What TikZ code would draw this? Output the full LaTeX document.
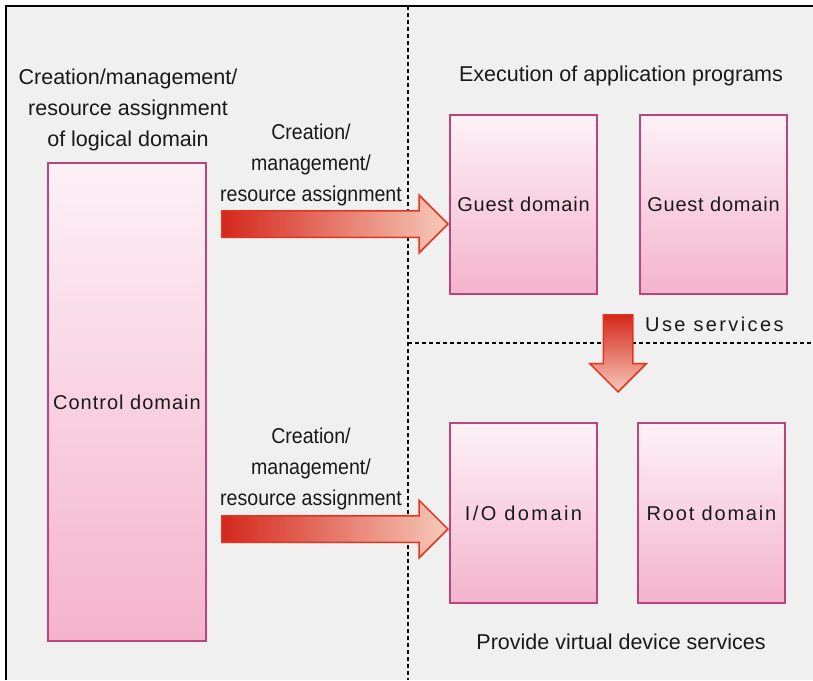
\documentclass[tikz,border=0pt]{standalone}
\usepackage{fontspec}
\setmainfont{Liberation Sans}
\newfontfamily\narrowsans[FakeStretch=0.91]{Liberation Sans}
\usetikzlibrary{shapes.arrows,calc}

\definecolor{panel}{HTML}{F0F0F0}
\definecolor{domtop}{HTML}{FDF1F6}
\definecolor{dombot}{HTML}{F4B3CD}
\definecolor{domline}{HTML}{B8467A}
\definecolor{arrdark}{HTML}{D4281C}
\definecolor{arrlight}{HTML}{F6CABA}
\definecolor{arrline}{HTML}{E8321E}

\begin{document}
\begin{tikzpicture}[x=1pt,y=-1pt,
        txt/.style={font=\fontsize{21.5}{31}\selectfont, text=black!90, align=center, inner sep=0pt},
        narrowtxt/.style={txt, font=\narrowsans\fontsize{21.5}{31}\selectfont},
        spaced/.style={font=\fontsize{20}{31}\selectfont\addfontfeature{LetterSpace=#1}},
        dombox/.style={draw=domline, line width=2pt, top color=domtop, bottom color=dombot, txt},
        divider/.style={line width=2pt, dash pattern=on 4pt off 3pt},
        fatarrow/.style={single arrow, draw=arrline, line width=1.5pt, single arrow tip angle=90, anchor=tip}]
        \useasboundingbox (0,0) rectangle (813,680);
        \fill[white] (0,0) rectangle (813,680);
        \fill[panel] (6,6) rectangle (813,680);
        \draw[line width=2pt] (6,680) -- (6,6) -- (813,6);

        % dividers
        \draw[divider] (408,6) -- (408,680);
        \draw[divider] (408,343) -- (813,343);

        % domains
        \node[dombox, spaced=5, minimum width=158pt, minimum height=478pt] (control) at (127,402) {Control domain};
        \node[dombox, spaced=4, minimum width=147pt, minimum height=179pt] (guestA) at (523.5,204.5) {Guest domain};
        \node[dombox, spaced=4, minimum width=147pt, minimum height=179pt] (guestB) at (713.5,204.5) {Guest domain};
        \node[dombox, spaced=12, minimum width=147pt, minimum height=180pt] (io) at (523.5,513) {I/O domain};
        \node[dombox, spaced=9, minimum width=147pt, minimum height=180pt] (root) at (711.5,513) {Root domain};

        % labels
        \node[txt] (ctrllabel) at (128,110) {Creation/management/\\resource assignment\\of logical domain};
        \node[txt] (execlabel) at (621,76) {Execution of application programs};
        \node[narrowtxt] (assignA) at (311,165) {Creation/\\management/\\resource assignment};
        \node[narrowtxt] (assignB) at (311,469) {Creation/\\management/\\resource assignment};
        \node[txt, spaced=12, anchor=west] (uselabel) at (645,324) {Use services};
        \node[txt] (providelabel) at (621,642) {Provide virtual device services};

        % block arrows
        \coordinate (tipA) at ($(guestA.west)+(0,19.5)$);
        \coordinate (tipB) at ($(io.west)+(0,16)$);
        \coordinate (tipC) at (618,393);
        \node[fatarrow, left color=arrdark, right color=arrlight, minimum height=226pt,
              inner sep=12.5pt, single arrow head extend=15.5pt] (arrowA) at (tipA) {};
        \node[fatarrow, left color=arrdark, right color=arrlight, minimum height=226pt,
              inner sep=12.5pt, single arrow head extend=15.5pt] (arrowB) at (tipB) {};
        \node[fatarrow, shape border rotate=270, top color=arrdark, bottom color=arrlight, minimum height=77pt,
              inner sep=14pt, single arrow head extend=13.5pt] (arrowC) at (tipC) {};

    \end{tikzpicture}
\end{document}
